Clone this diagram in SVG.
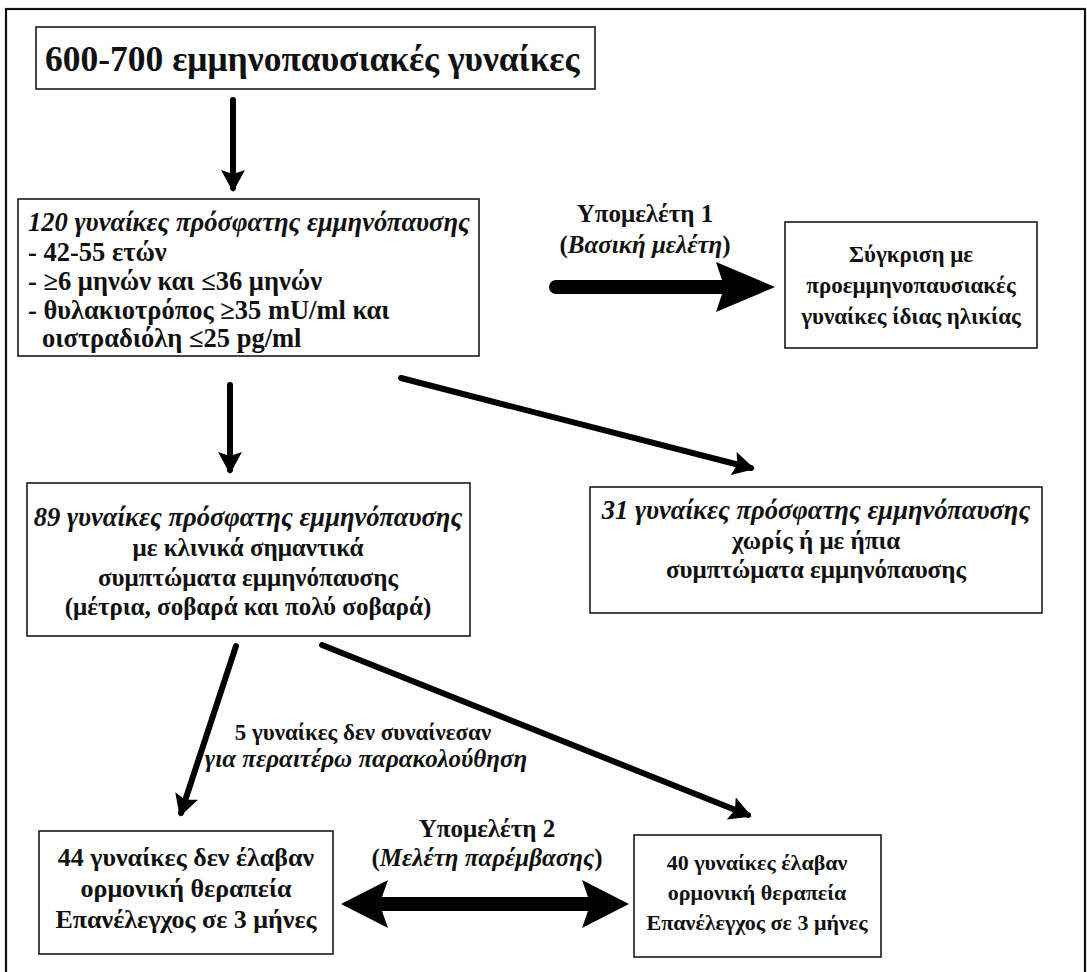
<svg xmlns="http://www.w3.org/2000/svg" width="1087" height="972" viewBox="0 0 1087 972" font-family="Liberation Serif, serif">
  <style>
    .box { fill: #ffffff; stroke: #1a1a1a; stroke-width: 1.6; }
    .frame { fill: #ffffff; stroke: #111111; stroke-width: 2.2; }
    text { font-family: "Liberation Serif", "Times New Roman", serif; font-weight: 700; fill: #111111; }
    .t { font-size: 25px; }
    .l { font-size: 26.5px; }
    .s { font-size: 23px; }
    .s2 { font-size: 22px; }
    .m { font-size: 26px; }
    .c { text-anchor: middle; }
    .it { font-style: italic; }
    .iti { font-style: italic; font-size: 26.6px; }
    .title { font-size: 35.5px; }
    .conn { stroke: #000000; stroke-width: 6; stroke-linecap: round; fill: none; }
    .thick { fill: #000000; }
  </style>
  <defs>
    <marker id="head" viewBox="0 0 22 24" refX="18" refY="12" markerWidth="22" markerHeight="24" markerUnits="userSpaceOnUse" orient="auto">
      <path d="M0,0 L22,12 L0,24 L4,12 z" fill="#000000"/>
    </marker>
  </defs>

  <rect class="frame" x="6" y="9" width="1079" height="980"/>

  <!-- connectors -->
  <g id="connectors">
    <line class="conn" x1="233" y1="100" x2="233" y2="188" marker-end="url(#head)"/>
    <line class="conn" x1="230" y1="385" x2="230" y2="470" marker-end="url(#head)"/>
    <line class="conn" x1="401" y1="378" x2="751" y2="468" marker-end="url(#head)"/>
    <line class="conn" x1="236" y1="646" x2="181" y2="813" marker-end="url(#head)"/>
    <line class="conn" x1="322" y1="645" x2="748" y2="815" marker-end="url(#head)"/>
    <!-- wide arrow towards the comparison group -->
    <path class="thick" d="M556,280 L722,280 L716,262 L775,287 L716,312 L722,294 L556,294 A7,7 0 0 1 556,280 z"/>
    <!-- two-way wide arrow between the two groups -->
    <path class="thick" d="M341,904 L388,880 L382,897 L588,897 L582,880 L629,904 L582,928 L588,911 L382,911 L388,928 z"/>
    <text class="t c" x="645" y="222">Υπομελέτη 1</text>
    <text class="t c" x="645" y="253">(<tspan class="it">Βασική μελέτη</tspan>)</text>
    <text class="s c" x="363" y="740">5 γυναίκες δεν συναίνεσαν</text>
    <text class="t c it" x="366" y="767">για περαιτέρω παρακολούθηση</text>
    <text class="t c" x="487" y="837">Υπομελέτη 2</text>
    <text class="t c" x="487" y="866">(<tspan class="it">Μελέτη παρέμβασης</tspan>)</text>
  </g>

  <g id="n-start">
    <rect class="box" x="36" y="27" width="559" height="62"/>
    <text class="title" x="45" y="71">600-700 εμμηνοπαυσιακές γυναίκες</text>
  </g>

  <g id="n-recent">
    <rect class="box" x="18" y="199" width="461" height="157"/>
    <text class="iti" x="28" y="231">120 γυναίκες πρόσφατης εμμηνόπαυσης</text>
    <text class="l" x="28" y="261">- 42-55 ετών</text>
    <text class="l" x="28" y="290">- ≥6 μηνών και ≤36 μηνών</text>
    <text class="l" x="28" y="319">- θυλακιοτρόπος ≥35 mU/ml και</text>
    <text class="l" x="42" y="347">οιστραδιόλη ≤25 pg/ml</text>
  </g>

  <g id="n-compare">
    <rect class="box" x="785" y="222" width="252" height="126"/>
    <text class="s c" x="911" y="262">Σύγκριση με</text>
    <text class="s c" x="911" y="293">προεμμηνοπαυσιακές</text>
    <text class="s c" x="911" y="324">γυναίκες ίδιας ηλικίας</text>
  </g>

  <g id="n-symptomatic">
    <rect class="box" x="27" y="483" width="443" height="153"/>
    <text class="iti c" x="248" y="526">89 γυναίκες πρόσφατης εμμηνόπαυσης</text>
    <text class="t c" x="248" y="556">με κλινικά σημαντικά</text>
    <text class="t c" x="248" y="586">συμπτώματα εμμηνόπαυσης</text>
    <text class="t c" x="248" y="615">(μέτρια, σοβαρά και πολύ σοβαρά)</text>
  </g>

  <g id="n-mild">
    <rect class="box" x="590" y="487" width="452" height="126"/>
    <text class="iti c" x="816" y="519">31 γυναίκες πρόσφατης εμμηνόπαυσης</text>
    <text class="t c" x="816" y="549">χωρίς ή με ήπια</text>
    <text class="t c" x="816" y="578">συμπτώματα εμμηνόπαυσης</text>
  </g>

  <g id="n-no-hrt">
    <rect class="box" x="39" y="831" width="294" height="123"/>
    <text class="m c" x="186" y="866">44 γυναίκες δεν έλαβαν</text>
    <text class="m c" x="186" y="897">ορμονική θεραπεία</text>
    <text class="m c" x="186" y="928">Επανέλεγχος σε 3 μήνες</text>
  </g>

  <g id="n-hrt">
    <rect class="box" x="634" y="835" width="247" height="122"/>
    <text class="s2 c" x="757" y="870">40 γυναίκες έλαβαν</text>
    <text class="s2 c" x="757" y="900">ορμονική θεραπεία</text>
    <text class="s2 c" x="757" y="930">Επανέλεγχος σε 3 μήνες</text>
  </g>
</svg>
